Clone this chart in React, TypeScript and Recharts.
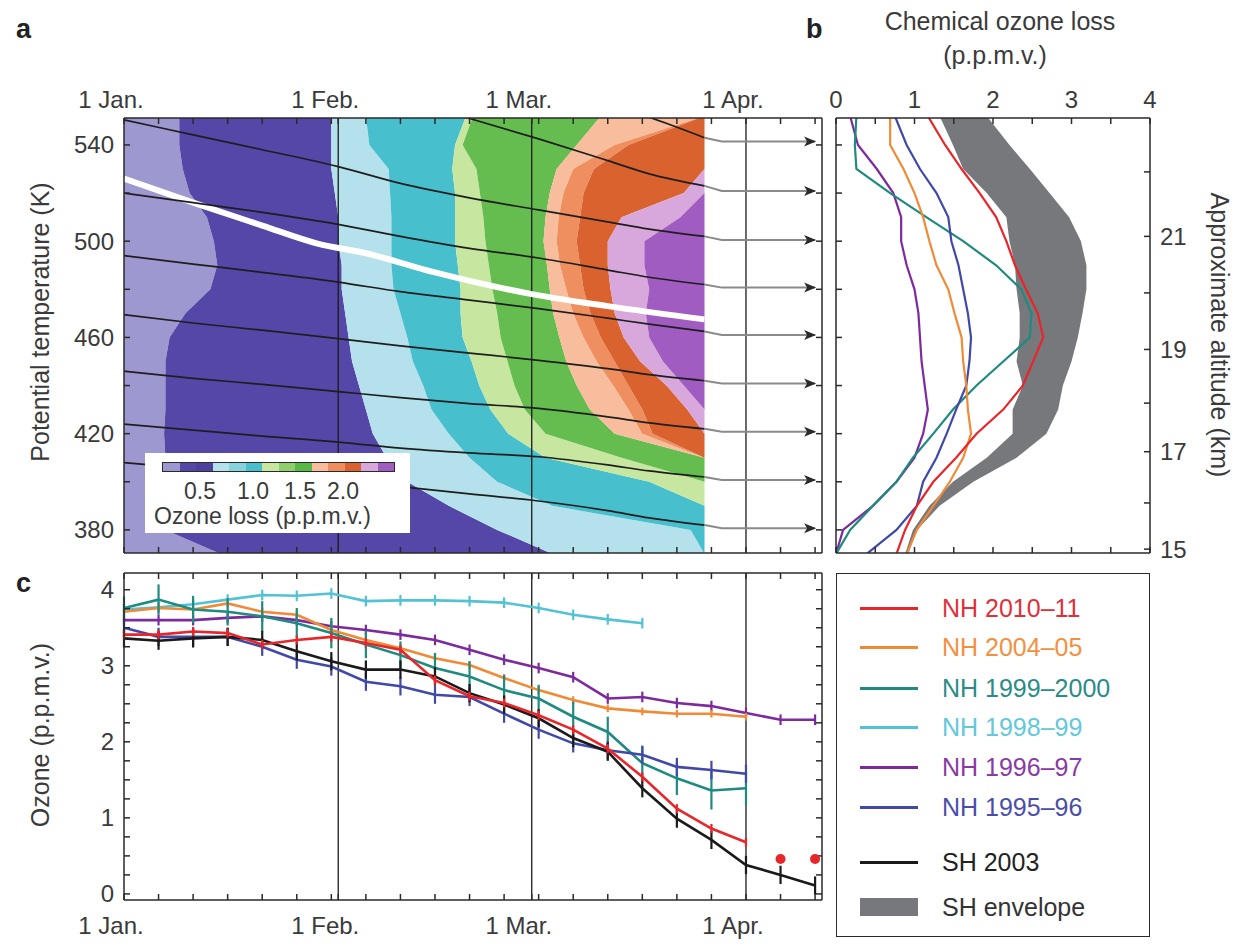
import React from 'react';
import {
  ComposedChart,
  LineChart,
  Line,
  Area,
  XAxis,
  YAxis,
  ReferenceLine,
  ErrorBar,
} from 'recharts';

const FONT = '"Liberation Sans", Arial, Helvetica, sans-serif';
const INK = '#3a3a3a';
const AXIS = '#2a2a2a';

// ---------- shared time axis (days since 1 Jan.) ----------
const dayDomain: [number, number] = [0, 101];
const dayTicks = [0, 5, 10, 15, 20, 25, 30, 31, 35, 40, 45, 50, 55, 59, 60, 65, 70, 75, 80, 85, 90, 95, 100];
const monthDays = [0, 31, 59, 90];
const monthLabels = ['1 Jan.', '1 Feb.', '1 Mar.', '1 Apr.'];

// ---------- potential temperature axis (panels a, b) ----------
const thetaDomain: [number, number] = [370.4, 551.2];
const thetaTicks = [380, 400, 420, 440, 460, 480, 500, 520, 540];
const thetaLabelled = [380, 420, 460, 500, 540];

// ---------- panel a: ozone loss contours ----------
// day at which each loss level is first reached, per theta row
const contourTheta = [370, 380, 390, 400, 410, 420, 430, 440, 450, 460, 470, 480, 490, 500, 510, 520, 530, 540, 552];
const blueFrom = [14, 6, 6, 6, 6, 5.8, 6, 6, 6, 6.6, 8.9, 12.5, 13.5, 13, 12, 9.5, 8.5, 8, 8];
const lightCyanFrom = [62, 54, 47, 41, 38, 36, 35, 34, 33, 32.5, 32, 31.5, 31.5, 31, 31, 30.5, 30, 30, 30];
const cyanFrom = [84, 82, 62, 54, 50, 47, 44.5, 43.3, 41.8, 41, 40, 39, 38.7, 38.7, 38.7, 38.5, 38.3, 35.5, 35];
const lightGreenFrom = [84, 84, 84, 76, 61, 55.6, 53, 51.4, 50.3, 49, 48.7, 48.7, 48.3, 47.9, 47.9, 47.9, 47.5, 47.9, 49.5];
const greenFrom = [84, 84, 84, 84, 72, 61, 58, 56.5, 55.5, 54.5, 54, 53.3, 52.8, 52.3, 52, 51.5, 51, 49, 50.5];
const peachFrom = [84, 84, 84, 84, 84, 71, 67.4, 65.5, 64, 63, 62.1, 61.6, 61.2, 60.7, 61, 61.6, 62.6, 65.5, 69];
const orangeFrom = [84, 84, 84, 84, 84, 75, 73, 70.8, 68.4, 66.5, 65, 64, 63.1, 62.6, 62.9, 63.6, 65, 71, 84];
const darkOrangeFrom = [84, 84, 84, 84, 84, 76.5, 75, 73, 71, 69, 67.5, 66.5, 66, 65.5, 66, 66.5, 68, 73, 84];
const pinkFrom = [84, 84, 84, 84, 84, 84, 81.5, 78.5, 74.7, 72.3, 71, 70.4, 70, 70, 72, 81, 84, 84, 84];
const purpleFrom = [84, 84, 84, 84, 84, 84, 84, 81, 78, 76, 75.5, 76, 75.3, 75.3, 80.5, 84, 84, 84, 84];
const dataEndDay = 84;
const contourColors = ['#9e98d0', '#5447a8', '#b5e1ec', '#47bfcd', '#c7e7a1', '#66bd4f', '#f7bd9c', '#ef8e5e', '#d9622f', '#d8a8dd', '#a15cc2'];
const colorbarColors = ['#9e98d0', '#5447a8', '#4d41a0', '#b5e1ec', '#86d3de', '#47bfcd', '#c7e7a1', '#8fd06c', '#56b845', '#f7bd9c', '#ef8e5e', '#d9622f', '#d8a8dd', '#a15cc2'];
const colorbarLabels = ['0.5', '1.0', '1.5', '2.0'];

// white line
const whiteDays = [0, 10, 20, 28, 35, 45, 59, 70, 84];
const whiteTheta = [526, 516, 506.5, 499, 495, 487, 478, 473, 467.5];

// descending air-mass trajectories
const descentDays = [0, 10, 20, 31, 40, 50, 60, 70, 76, 84];
const descent: (number | null)[][] = [
  [null, null, null, null, null, null, null, 557, 551.5, 543],
  [null, null, null, null, 559, 551, 542.5, 533.5, 528, 523],
  [550.4, 544.2, 538, 531, 524, 518, 513, 508, 505, 502],
  [520, 516, 512, 507, 502, 497, 493, 488, 485, 482],
  [494, 490.5, 487, 483, 479, 475.5, 472, 468, 465.5, 462.5],
  [469.5, 466, 463, 459.5, 456.5, 453.5, 450.5, 447, 444.5, 442],
  [446, 443, 440.5, 437.5, 435, 432.5, 430.5, 427, 424.5, 422],
  [424, 421.5, 419, 416.5, 414, 412, 410.4, 407, 404.5, 402],
  [408, 405.5, 403, 400.5, 398, 395, 392, 388, 385, 382],
];
const arrowTheta = [541.4, 520.9, 500.5, 480.7, 461, 440.9, 420.8, 400.7, 380.7];
const arrowDays = [84, 86.5, 100];

// ---------- panel b: chemical ozone loss profiles ----------
const profTheta = [552, 540, 530, 520, 510, 500, 490, 480, 470, 460, 450, 440, 430, 420, 410, 400, 390, 380, 370];
const profNH2011 = [1.17, 1.39, 1.6, 1.83, 2.04, 2.17, 2.28, 2.42, 2.57, 2.64, 2.51, 2.38, 2.13, 1.79, 1.53, 1.24, 1.03, 0.88, 0.77];
const profNH2005 = [0.69, 0.69, 0.86, 1.0, 1.11, 1.19, 1.28, 1.43, 1.51, 1.6, 1.62, 1.66, 1.68, 1.72, 1.62, 1.45, 1.24, 1.03, 0.9];
const profNH2000 = [0.26, 0.24, 0.26, 0.69, 1.15, 1.62, 2.04, 2.36, 2.49, 2.47, 2.13, 1.79, 1.49, 1.24, 0.98, 0.77, 0.47, 0.18, 0];
const profNH1997 = [0.18, 0.28, 0.52, 0.73, 0.83, 0.83, 0.9, 1.0, 1.05, 1.07, 1.09, 1.13, 1.17, 1.11, 1.0, 0.77, 0.47, 0.09, 0];
const profNH1996 = [0.75, 0.9, 1.07, 1.28, 1.43, 1.47, 1.56, 1.62, 1.68, 1.72, 1.7, 1.66, 1.53, 1.41, 1.28, 1.11, 1.03, 0.77, 0.39];
const envLow = [1.32, 1.49, 1.62, 1.92, 2.17, 2.21, 2.28, 2.3, 2.34, 2.34, 2.3, 2.38, 2.25, 2.25, 1.92, 1.49, 1.19, 0.98, 0.88];
const envHigh = [1.92, 2.21, 2.47, 2.72, 2.97, 3.12, 3.19, 3.19, 3.14, 3.08, 3.0, 2.89, 2.83, 2.68, 2.3, 1.75, 1.32, 1.03, 0.92];
const lossTicks = [0, 0.5, 1, 1.5, 2, 2.5, 3, 3.5, 4];
const altTheta = [372, 391.2, 412.5, 432.7, 455, 478.5, 502, 528.8];
const altLabels = ['15', '', '17', '', '19', '', '21', ''];

// ---------- panel c: vortex ozone ----------
const cDays = [0, 5, 10, 15, 20, 25, 30, 35, 40, 45, 50, 55, 60, 65, 70, 75, 80, 85, 90, 95, 100];
const ozNH2011 = [3.41, 3.41, 3.45, 3.43, 3.28, 3.34, 3.38, 3.3, 3.21, 2.81, 2.6, 2.51, 2.35, 2.16, 1.91, 1.54, 1.12, 0.86, 0.68];
const ozNH2011Late = [0.46, 0.46];
const ozNH2005 = [3.71, 3.76, 3.74, 3.82, 3.71, 3.67, 3.47, 3.34, 3.23, 3.1, 3.01, 2.84, 2.68, 2.55, 2.44, 2.4, 2.37, 2.37, 2.33];
const ozNH2000 = [3.76, 3.87, 3.74, 3.71, 3.65, 3.56, 3.43, 3.28, 3.14, 2.97, 2.86, 2.68, 2.57, 2.33, 2.13, 1.72, 1.52, 1.36, 1.39];
const ozNH1999 = [3.74, 3.77, 3.81, 3.87, 3.93, 3.92, 3.95, 3.85, 3.86, 3.86, 3.85, 3.83, 3.76, 3.67, 3.61, 3.56];
const ozNH1997 = [3.6, 3.6, 3.6, 3.63, 3.65, 3.6, 3.52, 3.47, 3.41, 3.34, 3.21, 3.08, 2.97, 2.85, 2.57, 2.59, 2.51, 2.47, 2.38, 2.29, 2.29];
const ozNH1996 = [3.5, 3.38, 3.38, 3.38, 3.25, 3.08, 2.99, 2.79, 2.73, 2.62, 2.59, 2.37, 2.16, 1.98, 1.89, 1.83, 1.67, 1.63, 1.58];
const ozSH2003 = [3.36, 3.33, 3.36, 3.38, 3.34, 3.19, 3.06, 2.95, 2.95, 2.86, 2.64, 2.49, 2.31, 2.05, 1.87, 1.39, 0.99, 0.71, 0.38, 0.25, 0.11];
const errNH2000 = [0.15, 0.2, 0.18, 0.18, 0.2, 0.2, 0.2, 0.18, 0.18, 0.2, 0.2, 0.2, 0.18, 0.2, 0.2, 0.22, 0.22, 0.25, 0.22];
const ozDomain: [number, number] = [-0.08, 4.22];
const ozTicks = [0, 0.25, 0.5, 0.75, 1, 1.25, 1.5, 1.75, 2, 2.25, 2.5, 2.75, 3, 3.25, 3.5, 3.75, 4];
const grayBandTop = 0.95;

// ---------- legend ----------
const legendNames = ['NH 2010–11', 'NH 2004–05', 'NH 1999–2000', 'NH 1998–99', 'NH 1996–97', 'NH 1995–96', 'SH 2003', 'SH envelope'];
const seriesColors = ['#e8262a', '#f08a36', '#1f8a80', '#52c2d4', '#7d2a9e', '#4048a8', '#1a1a1a', '#77787b'];
const legendTextColors = ['#e0303a', '#f39040', '#2a8c86', '#62c8da', '#8a3aa5', '#4a4ea8', '#222', '#333'];
const legendRowY = [34, 73, 114, 153, 193, 233, 288, 333];

const contourRows = contourTheta.map((theta, i) => {
  const edges = [0, blueFrom[i], lightCyanFrom[i], cyanFrom[i], lightGreenFrom[i], greenFrom[i], peachFrom[i],
    orangeFrom[i], darkOrangeFrom[i], pinkFrom[i], purpleFrom[i], dataEndDay];
  const row: Record<string, number> = { theta };
  contourColors.forEach((_, k) => {
    row[`w${k}`] = edges[k + 1] - edges[k];
  });
  return row;
});

const envelopeRows = profTheta.map((theta, i) => ({ theta, env: [envLow[i], envHigh[i]] }));
const profiles: [number[], number][] = [
  [profNH1997, 4],
  [profNH2000, 2],
  [profNH1996, 5],
  [profNH2005, 1],
  [profNH2011, 0],
];

const series = (vals: number[], err: number | number[]) =>
  vals.map((v, i) => ({ day: cDays[i], v, e: Array.isArray(err) ? err[i] : err }));

const tickFont = { fontSize: 24, fill: INK, fontFamily: FONT };

const MonthTick = (props: any) => {
  const { x, y, payload } = props;
  const i = monthDays.indexOf(payload.value);
  if (i < 0) return <g />;
  return (
    <text x={x - 13} y={y} textAnchor="middle" fontSize={24} fill={INK} fontFamily={FONT}>
      {monthLabels[i]}
    </text>
  );
};

const ArrowHead = (p: any) => {
  if (p.index !== 2) return <g key={p.index} />;
  const { cx, cy } = p;
  return (
    <path key={p.index} d={`M${cx - 11},${cy - 5} L${cx + 1},${cy} L${cx - 11},${cy + 5} L${cx - 8},${cy} Z`} fill="#2a2a2a" />
  );
};

const blank = () => '';

function PanelA() {
  return (
    <>
      <div style={{ position: 'absolute', left: 0, top: 0 }}>
        <ComposedChart layout="vertical" width={830} height={560} data={contourRows}
          margin={{ top: 118, right: 8, bottom: 7, left: 124 }}>
          <XAxis type="number" domain={dayDomain} hide allowDataOverflow />
          <YAxis type="number" dataKey="theta" domain={thetaDomain} reversed hide allowDataOverflow />
          {contourColors.map((c, k) => (
            <Area key={k} type="linear" dataKey={`w${k}`} stackId="c" fill={c} fillOpacity={1}
              stroke="none" isAnimationActive={false} />
          ))}
        </ComposedChart>
      </div>
      <div style={{ position: 'absolute', left: 0, top: 0 }}>
        <ComposedChart width={830} height={560} margin={{ top: 88, right: 7, bottom: 6, left: 64 }}>
          <XAxis xAxisId="top" orientation="top" type="number" dataKey="day" domain={dayDomain}
            ticks={dayTicks} interval={0} allowDataOverflow height={30} tickSize={-6} tickMargin={16}
            tick={MonthTick} stroke={AXIS} strokeWidth={1.5} />
          <XAxis xAxisId="bot" orientation="bottom" type="number" dataKey="day" domain={dayDomain}
            ticks={dayTicks} interval={0} allowDataOverflow height={1} tickSize={-6} tickFormatter={blank}
            stroke={AXIS} strokeWidth={1.5} />
          <YAxis yAxisId="L" type="number" domain={thetaDomain} ticks={thetaTicks} interval={0}
            allowDataOverflow width={60} tickSize={-6} tickMargin={16} tick={tickFont}
            tickFormatter={(v: number) => (thetaLabelled.includes(v) ? String(v) : '')}
            stroke={AXIS} strokeWidth={1.5} />
          <YAxis yAxisId="R" orientation="right" type="number" domain={thetaDomain} ticks={thetaTicks}
            interval={0} allowDataOverflow width={1} tickSize={-6} tickFormatter={blank}
            stroke={AXIS} strokeWidth={1.5} />
          {monthDays.slice(1).map((d) => (
            <ReferenceLine key={d} xAxisId="top" yAxisId="L" x={d} stroke="#1a1a1a" strokeWidth={1.3} />
          ))}
          <Line xAxisId="top" yAxisId="L" type="monotone" dataKey="th" stroke="#ffffff" strokeWidth={6}
            dot={false} isAnimationActive={false}
            data={whiteDays.map((d, i) => ({ day: d, th: whiteTheta[i] }))} />
          {descent.map((vals, j) => (
            <Line key={`d${j}`} xAxisId="top" yAxisId="L" type="monotone" dataKey="th" stroke="#1e1e1e"
              strokeWidth={1.7} dot={false} isAnimationActive={false}
              data={descentDays.map((d, i) => ({ day: d, th: vals[i] })).filter((p) => p.th != null)} />
          ))}
          {descent.map((vals, j) => (
            <Line key={`a${j}`} xAxisId="top" yAxisId="L" type="linear" dataKey="th" stroke="#8a8a8a"
              strokeWidth={2} dot={ArrowHead} isAnimationActive={false}
              data={arrowDays.map((d, i) => ({ day: d, th: i === 0 ? vals[vals.length - 1] : arrowTheta[j] }))} />
          ))}
        </ComposedChart>
      </div>
      {/* colour scale key */}
      <div style={{ position: 'absolute', left: 145, top: 453, width: 265, height: 80, background: '#fff' }}>
        <div style={{ position: 'absolute', left: 17, top: 9, width: 233, height: 10, display: 'flex',
          border: `1.5px solid ${AXIS}`, boxSizing: 'border-box' }}>
          {colorbarColors.map((c, i) => (
            <div key={i} style={{ flex: 1, background: c }} />
          ))}
        </div>
        {colorbarLabels.map((t, i) => (
          <div key={t} style={{ position: 'absolute', left: [55, 108, 155, 198][i] - 20, top: 25, width: 40,
            textAlign: 'center', fontSize: 23, color: INK }}>{t}</div>
        ))}
        <div style={{ position: 'absolute', left: 9, top: 50, fontSize: 23, color: INK, whiteSpace: 'nowrap' }}>
          Ozone loss (p.p.m.v.)
        </div>
      </div>
    </>
  );
}

function PanelB() {
  return (
    <>
      <div style={{ position: 'absolute', left: 760, top: 0 }}>
        <ComposedChart layout="vertical" width={480} height={560} data={envelopeRows}
          margin={{ top: 118, right: 90, bottom: 7, left: 76 }}>
          <XAxis type="number" domain={[0, 4]} hide allowDataOverflow />
          <YAxis type="number" dataKey="theta" domain={thetaDomain} reversed hide allowDataOverflow />
          <Area type="linear" dataKey="env" fill={seriesColors[7]} fillOpacity={1} stroke="none"
            isAnimationActive={false} />
        </ComposedChart>
      </div>
      <div style={{ position: 'absolute', left: 760, top: 0 }}>
        <ComposedChart width={480} height={580} margin={{ top: 88, right: 40, bottom: 26, left: 75 }}>
          <XAxis xAxisId="t" orientation="top" type="number" dataKey="loss" domain={[0, 4]} ticks={lossTicks}
            interval={0} allowDataOverflow height={30} tickSize={-6} tickMargin={16} tick={tickFont}
            tickFormatter={(v: number) => (Number.isInteger(v) ? String(v) : '')} stroke={AXIS} strokeWidth={1.5} />
          <XAxis xAxisId="b" orientation="bottom" type="number" dataKey="loss" domain={[0, 4]} ticks={lossTicks}
            interval={0} allowDataOverflow height={1} tickSize={-6} tickFormatter={blank} stroke={AXIS} strokeWidth={1.5} />
          <YAxis yAxisId="l" type="number" domain={thetaDomain} ticks={thetaTicks} interval={0} allowDataOverflow
            width={1} tickSize={-6} tickFormatter={blank} stroke={AXIS} strokeWidth={1.5} />
          <YAxis yAxisId="r" orientation="right" type="number" domain={thetaDomain} ticks={altTheta} interval={0}
            allowDataOverflow width={50} tickSize={-6} tickMargin={16} tick={tickFont}
            tickFormatter={(v: number) => altLabels[altTheta.indexOf(v)] ?? ''} stroke={AXIS} strokeWidth={1.5} />
          {profiles.map(([vals, ci]) => (
            <Line key={ci} xAxisId="t" yAxisId="l" type="linear" dataKey="theta" stroke={seriesColors[ci]}
              strokeWidth={2.2} dot={false} isAnimationActive={false}
              data={profTheta.map((theta, i) => ({ loss: vals[i], theta }))} />
          ))}
        </ComposedChart>
      </div>
    </>
  );
}

function PanelC() {
  const lines: [number[], number | number[], number][] = [
    [ozNH1999, 0.07, 3],
    [ozNH1997, 0.07, 4],
    [ozNH2005, 0.05, 1],
    [ozNH2000, errNH2000, 2],
    [ozNH1996, 0.12, 5],
    [ozSH2003, 0.12, 6],
    [ozNH2011, 0.06, 0],
  ];
  return (
    <div style={{ position: 'absolute', left: 0, top: 560 }}>
      <LineChart width={830} height={389} margin={{ top: 12, right: 7, bottom: 9, left: 64 }}>
        <XAxis xAxisId="top" orientation="top" type="number" dataKey="day" domain={dayDomain} ticks={dayTicks}
          interval={0} allowDataOverflow height={1} tickSize={-6} tickFormatter={blank} stroke={AXIS} strokeWidth={1.5} />
        <XAxis xAxisId="bot" orientation="bottom" type="number" dataKey="day" domain={dayDomain} ticks={dayTicks}
          interval={0} allowDataOverflow height={40} tickSize={-6} tickMargin={40} tick={MonthTick}
          stroke={AXIS} strokeWidth={1.5} />
        <YAxis yAxisId="L" type="number" domain={ozDomain} ticks={ozTicks} interval={0} allowDataOverflow
          width={60} tickSize={-6} tickMargin={16} tick={tickFont}
          tickFormatter={(v: number) => (Number.isInteger(v) ? String(v) : '')} stroke={AXIS} strokeWidth={1.5} />
        <YAxis yAxisId="R" orientation="right" type="number" domain={ozDomain} ticks={ozTicks} interval={0}
          allowDataOverflow width={1} tickSize={-6} tickFormatter={blank} stroke={AXIS} strokeWidth={1.5} />
        <Area xAxisId="bot" yAxisId="L" type="linear" dataKey="band" fill="#727376" fillOpacity={1} stroke="none"
          isAnimationActive={false}
          data={[{ day: dayDomain[0], band: [ozDomain[0], grayBandTop] }, { day: dayDomain[1], band: [ozDomain[0], grayBandTop] }]} />
        {monthDays.slice(1).map((d) => (
          <ReferenceLine key={d} xAxisId="bot" yAxisId="L" x={d} stroke="#1a1a1a" strokeWidth={1.3} />
        ))}
        {lines.map(([vals, err, ci]) => (
          <Line key={ci} xAxisId="bot" yAxisId="L" type="linear" dataKey="v" data={series(vals, err)}
            stroke={seriesColors[ci]} strokeWidth={2.6} dot={false} isAnimationActive={false}>
            <ErrorBar dataKey="e" direction="y" width={0} stroke={seriesColors[ci]} strokeWidth={2.2} />
          </Line>
        ))}
        <Line xAxisId="bot" yAxisId="L" type="linear" dataKey="v" stroke="none" isAnimationActive={false}
          data={ozNH2011Late.map((v, i) => ({ day: cDays[19 + i], v }))}
          dot={{ r: 5, fill: seriesColors[0], stroke: 'none' }} />
      </LineChart>
    </div>
  );
}

function Legend() {
  return (
    <div style={{ position: 'absolute', left: 836, top: 573, width: 314, height: 364,
      border: `1.5px solid ${AXIS}`, boxSizing: 'border-box' }}>
      {legendNames.map((name, i) => (
        <React.Fragment key={name}>
          {i < 7 ? (
            <div style={{ position: 'absolute', left: 23, top: legendRowY[i] - 1.5, width: 58, height: 3,
              background: seriesColors[i] }} />
          ) : (
            <div style={{ position: 'absolute', left: 23, top: legendRowY[i] - 9, width: 58, height: 18,
              background: seriesColors[i] }} />
          )}
          <div style={{ position: 'absolute', left: 105, top: legendRowY[i] - 15, height: 30, lineHeight: '30px',
            fontSize: 25, color: legendTextColors[i], whiteSpace: 'nowrap' }}>{name}</div>
        </React.Fragment>
      ))}
    </div>
  );
}

const rotated = (text: string, cx: number, cy: number, deg: number) => (
  <div style={{ position: 'absolute', left: cx - 200, top: cy - 15, width: 400, height: 30, lineHeight: '30px',
    textAlign: 'center', fontSize: 25, color: INK, transform: `rotate(${deg}deg)`, whiteSpace: 'nowrap' }}>
    {text}
  </div>
);

export default function App() {
  return (
    <div style={{ position: 'relative', width: 1242, height: 949, margin: -8, background: '#fff',
      fontFamily: FONT, overflow: 'hidden' }}>
      <PanelA />
      <PanelB />
      <PanelC />
      <Legend />
      {rotated('Potential temperature (K)', 40, 322, -90)}
      {rotated('Ozone (p.p.m.v.)', 40, 735, -90)}
      {rotated('Approximate altitude (km)', 1220, 335, 90)}
      <div style={{ position: 'absolute', left: 800, top: 6, width: 400, textAlign: 'center', fontSize: 25,
        color: INK, lineHeight: '30px' }}>Chemical ozone loss</div>
      <div style={{ position: 'absolute', left: 800, top: 40, width: 390, textAlign: 'center', fontSize: 25,
        color: INK, lineHeight: '30px' }}>(p.p.m.v.)</div>
      <div style={{ position: 'absolute', left: 16, top: 14, fontSize: 27, fontWeight: 'bold', color: '#222' }}>a</div>
      <div style={{ position: 'absolute', left: 806, top: 14, fontSize: 27, fontWeight: 'bold', color: '#222' }}>b</div>
      <div style={{ position: 'absolute', left: 16, top: 568, fontSize: 27, fontWeight: 'bold', color: '#222' }}>c</div>
    </div>
  );
}
